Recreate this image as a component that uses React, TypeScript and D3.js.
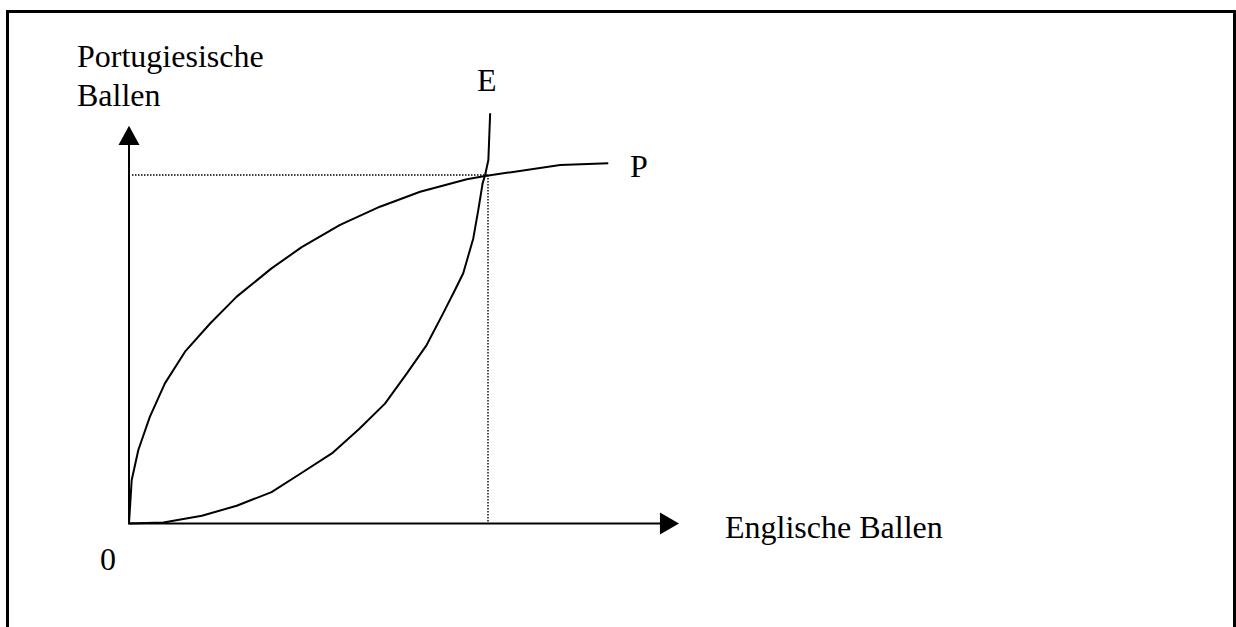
import React from "react";
import * as d3 from "d3";

// Curve E (England's offer curve) — [Englische Ballen, Portugiesische Ballen]
const curveE: [number, number][] = [
  [0, 0], [9.6, 0.3], [20.3, 2.2], [30.0, 5.1], [39.7, 9.0], [47.6, 14.2],
  [56.5, 20.1], [64.1, 27.1], [71.3, 34.4], [77.4, 43.1], [82.9, 51.2],
  [87.5, 60.3], [90.8, 67.0], [93.1, 71.8], [95.9, 81.8], [97.3, 90.0],
  [98.5, 97.6], [99.2, 100], [100.1, 104.3], [100.6, 117.7],
];
// Curve P (Portugal's offer curve)
const curveP: [number, number][] = [
  [0, 0], [0.75, 12.5], [2.6, 21.1], [5.8, 30.6], [10.0, 40.2], [15.6, 49.3],
  [22.6, 57.4], [30.0, 65.1], [39.7, 73.2], [48.1, 79.3], [58.8, 85.7],
  [69.9, 90.9], [81.1, 95.2], [94.1, 98.8], [99.2, 99.7], [120.1, 102.9],
  [133.5, 103.4],
];
// Equilibrium point
const equilibrium: [number, number] = [100, 100];
// Axis extents (data units)
const xAxisEnd = 153.2;
const xArrowBase = 147.9;
const yAxisEnd = 114.1;
const yArrowBase = 108.6;

const labelY = ["Portugiesische", "Ballen"];
const labelX = "Englische Ballen";
const labelE = "E";
const labelP = "P";
const labelOrigin = "0";

export default function App() {
  const W = 1236, H = 627;
  const x = d3.scaleLinear().domain([0, 100]).range([129, 488]);
  const y = d3.scaleLinear().domain([0, 100]).range([523.5, 175]);
  const line = d3
    .line<[number, number]>()
    .x((d) => x(d[0]))
    .y((d) => y(d[1]))
    .curve(d3.curveLinear);

  const font = "'Liberation Serif', 'Times New Roman', serif";
  const fs = 32;

  const ox = x(0), oy = y(0);
  const yTip = y(yAxisEnd), yBase = y(yArrowBase);
  const xTip = x(xAxisEnd), xBase = x(xArrowBase);

  return (
    <svg
      width={W}
      height={H}
      style={{ position: "absolute", left: 0, top: 0, background: "#fff" }}
    >
      <rect x={0} y={0} width={W} height={H} fill="#fff" />
      {/* frame */}
      <path
        d={`M7.5,${H + 5} L7.5,11.5 L1234.5,11.5 L1234.5,${H + 5}`}
        fill="none"
        stroke="#000"
        strokeWidth={3}
      />
      {/* dotted guides */}
      <line
        x1={ox + 3}
        y1={y(equilibrium[1])}
        x2={x(equilibrium[0])}
        y2={y(equilibrium[1])}
        stroke="#000"
        strokeWidth={1.4}
        strokeDasharray="1.5 1.5"
      />
      <line
        x1={x(equilibrium[0])}
        y1={y(equilibrium[1])}
        x2={x(equilibrium[0])}
        y2={oy}
        stroke="#000"
        strokeWidth={1.4}
        strokeDasharray="1.5 1.5"
      />
      {/* axes */}
      <line x1={ox} y1={oy} x2={ox} y2={yBase} stroke="#000" strokeWidth={2} />
      <path
        d={`M${ox},${yTip} L${ox - 10.5},${yBase} L${ox + 10.5},${yBase} Z`}
        fill="#000"
      />
      <line x1={ox - 1} y1={oy} x2={xBase} y2={oy} stroke="#000" strokeWidth={2} />
      <path
        d={`M${xTip},${oy} L${xBase},${oy - 11} L${xBase},${oy + 11} Z`}
        fill="#000"
      />
      {/* curves */}
      <path d={line(curveE) || ""} fill="none" stroke="#000" strokeWidth={2} strokeLinejoin="round" />
      <path d={line(curveP) || ""} fill="none" stroke="#000" strokeWidth={2} strokeLinejoin="round" />
      {/* labels */}
      <g fontFamily={font} fontSize={fs} fill="#000">
        <text x={77} y={66.5}>{labelY[0]}</text>
        <text x={77} y={106}>{labelY[1]}</text>
        <text x={477} y={90.5}>{labelE}</text>
        <text x={630} y={177}>{labelP}</text>
        <text x={725} y={538}>{labelX}</text>
        <text x={100} y={570}>{labelOrigin}</text>
      </g>
    </svg>
  );
}
